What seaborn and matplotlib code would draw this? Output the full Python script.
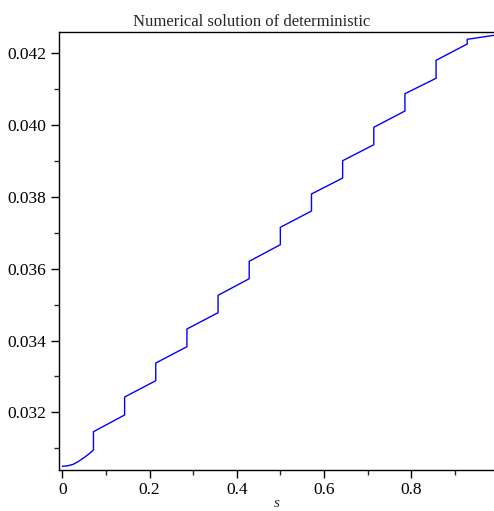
import numpy as np
import pandas as pd
import matplotlib
matplotlib.use("Agg")
import matplotlib.pyplot as plt
from matplotlib.ticker import MultipleLocator, FormatStrFormatter
import seaborn as sns

# --- data ---
start_s = [0.0, 0.012, 0.025, 0.036, 0.051, 0.063]
start_y = [0.030496, 0.030510, 0.030551, 0.030624, 0.030747, 0.030858]
jump_s = [1/14, 2/14, 3/14, 4/14, 5/14, 6/14, 7/14, 8/14, 9/14, 10/14, 11/14, 12/14, 13/14]
before_jump = [0.030950, 0.031925, 0.032880, 0.033827, 0.034774, 0.035721, 0.036669,
               0.037607, 0.038526, 0.039454, 0.040393, 0.041304, 0.042259]
after_jump = [0.031460, 0.032426, 0.033373, 0.034320, 0.035259, 0.036206, 0.037153,
              0.038081, 0.039008, 0.039939, 0.040875, 0.041805, 0.042390]
end_s = [0.990]
end_y = [0.042501]

title_text = "Numerical solution of deterministic"
x_label = "s"

s_all = list(start_s)
y_all = list(start_y)
for s, b, a in zip(jump_s, before_jump, after_jump):
    s_all += [s, s]
    y_all += [b, a]
s_all += end_s
y_all += end_y
df = pd.DataFrame({"s": s_all, "y": y_all, "order": np.arange(len(s_all))})

sns.set_style("ticks")
plt.rcParams["font.family"] = ["Liberation Serif", "DejaVu Serif"]
plt.rcParams["mathtext.fontset"] = "stix"

fig = plt.figure(figsize=(4.94, 5.11), dpi=100)
ax = fig.add_axes([59/494, 1 - 470/511, 1 - 59/494, (470 - 31.7)/511])

sns.lineplot(data=df, x="s", y="y", sort=False, estimator=None, color="#0000ff",
             linewidth=1.0, ax=ax)

ax.set_xlim(-0.0076, 0.990)
ax.set_ylim(0.030393, 0.042602)

ax.xaxis.set_major_locator(MultipleLocator(0.2))
ax.xaxis.set_minor_locator(MultipleLocator(0.1))
ax.yaxis.set_major_locator(MultipleLocator(0.002))
ax.yaxis.set_minor_locator(MultipleLocator(0.001))
ax.yaxis.set_major_formatter(FormatStrFormatter("%.3f"))
ax.xaxis.set_major_formatter(matplotlib.ticker.FuncFormatter(
    lambda v, p: "0" if abs(v) < 1e-9 else f"{v:.1f}"))

ax.tick_params(which="major", length=6, width=1, labelsize=12.5, direction="out",
               colors="black", pad=3)
ax.tick_params(which="minor", length=3.5, width=1, direction="out")

for side in ["left", "bottom", "top"]:
    ax.spines[side].set_visible(True)
    ax.spines[side].set_linewidth(1.0)
    ax.spines[side].set_color("black")
ax.spines["right"].set_visible(False)

ax.set_ylabel("")
ax.set_xlabel(x_label, fontsize=11, style="italic", labelpad=-1)

fig.text(0.51, 1 - 25.7/511, title_text, ha="center", va="baseline", fontsize=12)

fig.savefig("out.png", dpi=100)
